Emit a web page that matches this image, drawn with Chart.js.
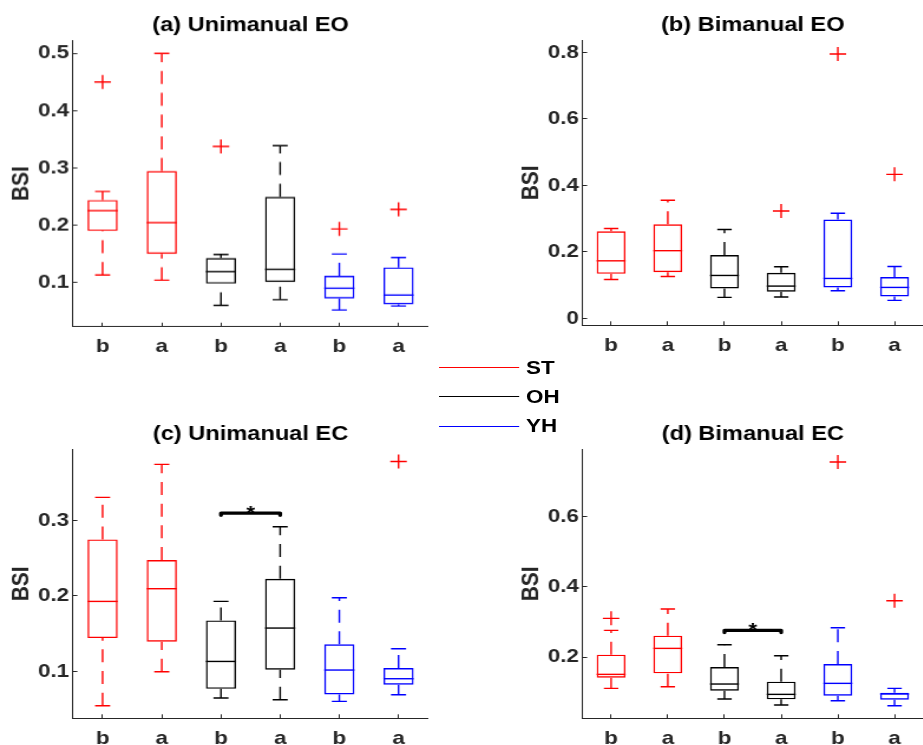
<!DOCTYPE html>
<html>
<head>
<meta charset="utf-8">
<script src="https://cdn.jsdelivr.net/npm/chart.js@4/dist/chart.umd.min.js"></script>
<style>
html, body { margin:0; padding:0; background:#fff; overflow:hidden; width:923px; height:745px; }
#fig { position:absolute; left:0; top:0; width:820px; height:745px; transform-origin:0 0; }
.panel { position:absolute; }
.panel canvas { display:block; }
.lgline { position:absolute; height:0; border-top:1.2px solid; }
.lgtext { position:absolute; font:bold 19px "Liberation Sans", Arial, Helvetica, sans-serif; line-height:20px; color:#000; white-space:nowrap; }
</style>
</head>
<body>
<div id="fig"></div>
<script>
// ---------------- DATA ----------------
const xPositions   = [1, 2, 3, 4, 5, 6];
const xTickLabels  = ['b', 'a', 'b', 'a', 'b', 'a'];
const groupColors  = ['#ff0000', '#ff0000', '#000000', '#000000', '#0000ff', '#0000ff'];
const legendLabels = ['ST', 'OH', 'YH'];
const legendColors = ['#ff0000', '#000000', '#0000ff'];
const panelTitles  = ['(a) Unimanual EO', '(b) Bimanual EO', '(c) Unimanual EC', '(d) Bimanual EC'];
const yLabel = 'BSI';
const sigMark = '*';

// (a) Unimanual EO
const aLower  = [0.113, 0.104, 0.060, 0.070, 0.052, 0.059];
const aQ1     = [0.190, 0.150, 0.098, 0.101, 0.072, 0.062];
const aMedian = [0.2255, 0.2045, 0.119, 0.123, 0.090, 0.078];
const aQ3     = [0.244, 0.2945, 0.1426, 0.2495, 0.1117, 0.1263];
const aUpper  = [0.259, 0.500, 0.149, 0.339, 0.1496, 0.1438];
const aOutX   = [1, 3, 5, 6];
const aOutY   = [0.450, 0.3377, 0.1934, 0.2278];
const aYTicks = [0.1, 0.2, 0.3, 0.4, 0.5];
const aYRange = [0.0233, 0.522];

// (b) Bimanual EO
const bLower  = [0.117, 0.126, 0.063, 0.064, 0.083, 0.054];
const bQ1     = [0.134, 0.139, 0.090, 0.080, 0.093, 0.066];
const bMedian = [0.173, 0.2035, 0.129, 0.097, 0.120, 0.093];
const bQ3     = [0.262, 0.283, 0.1905, 0.137, 0.297, 0.124];
const bUpper  = [0.270, 0.355, 0.267, 0.155, 0.316, 0.156];
const bOutX   = [4, 5, 6];
const bOutY   = [0.3228, 0.795, 0.4331];
const bYTicks = [0, 0.2, 0.4, 0.6, 0.8];
const bYRange = [-0.020, 0.835];

// (c) Unimanual EC
const cLower  = [0.0545, 0.0996, 0.0647, 0.0625, 0.0603, 0.0691];
const cQ1     = [0.1442, 0.1393, 0.0770, 0.1022, 0.0695, 0.0824];
const cMedian = [0.1927, 0.2095, 0.1132, 0.1574, 0.1018, 0.0903];
const cQ3     = [0.2748, 0.2475, 0.1675, 0.2227, 0.1358, 0.1045];
const cUpper  = [0.3305, 0.3742, 0.1927, 0.2916, 0.1976, 0.130];
const cOutX   = [6];
const cOutY   = [0.378];
const cYTicks = [0.1, 0.2, 0.3];
const cYRange = [0.0383, 0.3936];
const cSig    = [3, 4, 0.3097];

// (d) Bimanual EC
const dLower  = [0.1109, 0.1156, 0.0806, 0.0635, 0.0758, 0.0616];
const dQ1     = [0.1412, 0.1536, 0.1043, 0.0796, 0.090, 0.0787];
const dMedian = [0.1507, 0.2246, 0.1232, 0.0938, 0.1251, 0.0948];
const dQ3     = [0.2066, 0.2607, 0.1716, 0.1299, 0.1801, 0.0986];
const dUpper  = [0.2758, 0.3365, 0.2351, 0.2038, 0.2834, 0.1109];
const dOutX   = [1, 5, 6];
const dOutY   = [0.31, 0.7545, 0.3602];
const dYTicks = [0.2, 0.4, 0.6];
const dYRange = [0.0266, 0.7896];
const dSig    = [3, 4, 0.2758];

// ---------------- LAYOUT / STYLE ----------------
const FONT = '"Liberation Sans", Arial, Helvetica, sans-serif';
const SX = 1.18;            // horizontal stretch of the figure
const AXC = '#262626';
const LW = 1.4;
const YAXIS_W = 73;         // image px reserved for y axis (ticks+label)
const XAXIS_H = 45;
const TITLE_TOP = 40.7;     // px from div top to plot area

const fig = document.getElementById('fig');
fig.style.transform = 'scaleX(' + SX + ')';

const panels = [
  { title: panelTitles[0], lower: aLower, q1: aQ1, med: aMedian, q3: aQ3, upper: aUpper, outX: aOutX, outY: aOutY, yt: aYTicks, yr: aYRange, sig: null,
    box: { left: 73, right: 438, top: 40.7, bottom: 325.5 } },
  { title: panelTitles[1], lower: bLower, q1: bQ1, med: bMedian, q3: bQ3, upper: bUpper, outX: bOutX, outY: bOutY, yt: bYTicks, yr: bYRange, sig: null,
    box: { left: 582.5, right: 932.5, top: 40.7, bottom: 325 } },
  { title: panelTitles[2], lower: cLower, q1: cQ1, med: cMedian, q3: cQ3, upper: cUpper, outX: cOutX, outY: cOutY, yt: cYTicks, yr: cYRange, sig: cSig,
    box: { left: 73, right: 438, top: 450, bottom: 718.3 } },
  { title: panelTitles[3], lower: dLower, q1: dQ1, med: dMedian, q3: dQ3, upper: dUpper, outX: dOutX, outY: dOutY, yt: dYTicks, yr: dYRange, sig: dSig,
    box: { left: 582.5, right: 932.5, top: 450, bottom: 718.3 } }
];

function boxPlugin(P, k) {
  return {
    id: 'matlabBox' + k,
    afterDatasetsDraw(chart) {
      const ctx = chart.ctx;
      const xs = chart.scales.x, ys = chart.scales.y;
      const meta = chart.getDatasetMeta(0);
      ctx.save();
      ctx.lineWidth = LW;
      ctx.lineCap = 'butt';
      xPositions.forEach((xv, i) => {
        const bar = meta.data[i];
        const cx = xs.getPixelForValue(xv);
        const half = bar.width / 2;
        const yMed = ys.getPixelForValue(P.med[i]);
        const yQ1 = ys.getPixelForValue(P.q1[i]);
        const yQ3 = ys.getPixelForValue(P.q3[i]);
        const yLo = ys.getPixelForValue(P.lower[i]);
        const yHi = ys.getPixelForValue(P.upper[i]);
        ctx.strokeStyle = groupColors[i];
        // median
        ctx.setLineDash([]);
        ctx.beginPath(); ctx.moveTo(cx - half, yMed); ctx.lineTo(cx + half, yMed); ctx.stroke();
        // whiskers (dashed, drawn from the lower value upwards)
        ctx.setLineDash([13, 8.7]);
        ctx.beginPath(); ctx.moveTo(cx, yQ3); ctx.lineTo(cx, yHi); ctx.stroke();
        ctx.beginPath(); ctx.moveTo(cx, yLo); ctx.lineTo(cx, yQ1); ctx.stroke();
        // caps
        ctx.setLineDash([]);
        ctx.beginPath();
        ctx.moveTo(cx - half / 2, yHi); ctx.lineTo(cx + half / 2, yHi);
        ctx.moveTo(cx - half / 2, yLo); ctx.lineTo(cx + half / 2, yLo);
        ctx.stroke();
      });
      if (P.sig) {
        const x1 = xs.getPixelForValue(P.sig[0]);
        const x2 = xs.getPixelForValue(P.sig[1]);
        const yy = ys.getPixelForValue(P.sig[2]);
        ctx.strokeStyle = '#000';
        ctx.lineWidth = 3.3;
        ctx.lineCap = 'round';
        ctx.lineJoin = 'round';
        ctx.beginPath();
        ctx.moveTo(x1, yy + 2.2); ctx.lineTo(x1, yy); ctx.lineTo(x2, yy); ctx.lineTo(x2, yy + 2.2);
        ctx.stroke();
        ctx.fillStyle = '#000';
        ctx.font = 'bold 19px ' + FONT;
        ctx.textAlign = 'center';
        ctx.textBaseline = 'alphabetic';
        ctx.fillText(sigMark, (x1 + x2) / 2, yy + 6);
      }
      ctx.restore();
    }
  };
}

panels.forEach((P, k) => {
  const b = P.box;
  const div = document.createElement('div');
  div.className = 'panel';
  const top = b.top - TITLE_TOP;
  div.style.left = ((b.left - YAXIS_W) / SX) + 'px';
  div.style.top = top + 'px';
  div.style.width = ((b.right - b.left + YAXIS_W) / SX) + 'px';
  div.style.height = (b.bottom - top + XAXIS_H) + 'px';
  const cv = document.createElement('canvas');
  div.appendChild(cv);
  fig.appendChild(div);

  new Chart(cv, {
    type: 'bar',
    data: {
      datasets: [
        {
          type: 'bar',
          data: xPositions.map((xv, i) => ({ x: xv, y: [P.q1[i], P.q3[i]] })),
          borderColor: groupColors,
          backgroundColor: 'rgba(0,0,0,0)',
          borderWidth: LW,
          borderSkipped: false,
          barPercentage: 0.51,
          categoryPercentage: 1
        },
        {
          type: 'scatter',
          data: P.outX.map((xv, i) => ({ x: xv, y: P.outY[i] })),
          pointStyle: 'cross',
          pointRadius: 7,
          pointHoverRadius: 7,
          borderColor: '#ff0000',
          backgroundColor: '#ff0000',
          borderWidth: LW
        }
      ]
    },
    options: {
      responsive: true,
      maintainAspectRatio: false,
      animation: false,
      events: [],
      layout: { padding: 0 },
      plugins: {
        legend: { display: false },
        tooltip: { enabled: false },
        title: {
          display: true, text: P.title, color: '#000', fullSize: false,
          font: { family: FONT, size: 20, weight: 'bold', lineHeight: 1.2 },
          padding: { top: 13.5, bottom: TITLE_TOP - 24 - 13.5 }
        }
      },
      scales: {
        x: {
          type: 'linear', min: 0.5, max: 6.5, offset: false,
          afterBuildTicks: s => { s.ticks = xPositions.map(v => ({ value: v })); },
          afterFit: s => { s.height = XAXIS_H; },
          ticks: {
            callback: v => xTickLabels[xPositions.indexOf(Math.round(v))],
            font: { family: FONT, size: 19, weight: 'bold' }, color: AXC,
            padding: 13, autoSkip: false, maxRotation: 0, minRotation: 0
          },
          grid: { display: true, drawOnChartArea: false, drawTicks: true, tickLength: -3.7, color: AXC, lineWidth: 1, offset: false },
          border: { display: true, color: AXC, width: 1 }
        },
        y: {
          type: 'linear', min: P.yr[0], max: P.yr[1],
          afterBuildTicks: s => { s.ticks = P.yt.map(v => ({ value: v })); },
          afterFit: s => { s.width = YAXIS_W / SX; },
          ticks: {
            callback: v => String(+(+v).toFixed(2)),
            font: { family: FONT, size: 19, weight: 'bold' }, color: AXC, padding: 6.9
          },
          grid: { display: true, drawOnChartArea: false, drawTicks: true, tickLength: -3.7, color: AXC, lineWidth: 1 },
          border: { display: true, color: AXC, width: 1 },
          title: {
            display: true, text: yLabel, color: AXC,
            font: { family: FONT, size: 21, weight: 'bold', lineHeight: 1.2 },
            padding: { top: 6, bottom: 0 }
          }
        }
      }
    },
    plugins: [boxPlugin(P, k)]
  });
});

// legend (figure-level)
const lgY = [368, 397, 426.3];
legendLabels.forEach((lab, i) => {
  const ln = document.createElement('div');
  ln.className = 'lgline';
  ln.style.left = (439.3 / SX) + 'px';
  ln.style.width = ((519.3 - 439.3) / SX) + 'px';
  ln.style.top = (lgY[i] - 0.6) + 'px';
  ln.style.borderTopColor = legendColors[i];
  fig.appendChild(ln);
  const tx = document.createElement('div');
  tx.className = 'lgtext';
  tx.style.left = (526 / SX) + 'px';
  tx.style.top = (lgY[i] - 10) + 'px';
  tx.textContent = lab;
  fig.appendChild(tx);
});
</script>
</body>
</html>
